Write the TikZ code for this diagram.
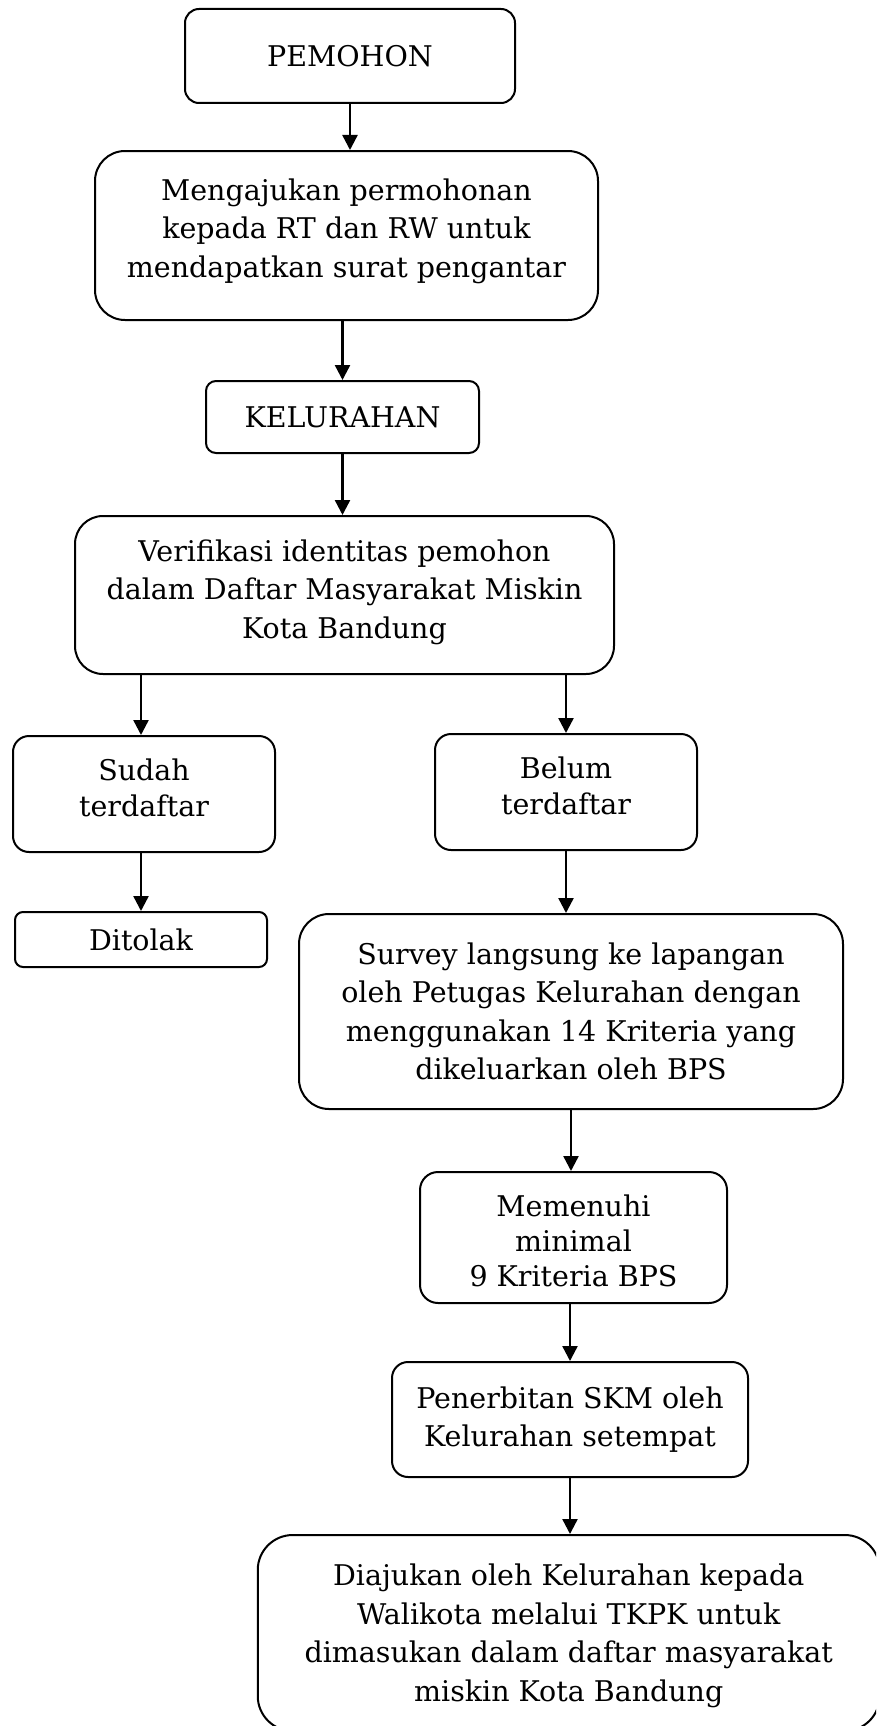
\documentclass[tikz,border=0pt]{standalone}
\usepackage{fontspec}
\setmainfont{DejaVu Serif}
\usetikzlibrary{arrows.meta}
\begin{document}
\begin{tikzpicture}[x=1pt,y=-1pt,
  txt/.style={inner sep=0pt, align=center, font=\fontsize{28.5}{38.5}\selectfont},
  box/.style={draw, line width=2pt, rectangle, inner sep=0pt, txt},
  arr/.style={line width=2.4pt, -{Triangle[width=15pt,length=15pt]}}]
\useasboundingbox (0,0) rectangle (876,1726);
\clip (0,0) rectangle (876,1726);
\fill[white] (0,0) rectangle (876,1726);
\node[box, rounded corners=14pt, minimum width=330pt, minimum height=94pt] (pem) at (350,56) {PEMOHON};
\node[box, rounded corners=30pt, minimum width=503pt, minimum height=169pt,
  label={[txt, yshift=4.5pt]center:{Mengajukan permohonan\\kepada RT dan RW untuk\\mendapatkan surat pengantar}}] (aju) at (346.5,235.5) {};
\node[box, rounded corners=10pt, minimum width=273pt, minimum height=72pt] (kel) at (342.5,417) {KELURAHAN};
\node[box, rounded corners=28pt, minimum width=539pt, minimum height=158pt,
  label={[txt, yshift=3pt]center:{Verifikasi identitas pemohon\\dalam Daftar Masyarakat Miskin\\Kota Bandung}}] (ver) at (344.5,595) {};
\node[box, rounded corners=16pt, minimum width=262pt, minimum height=116pt,
  label={[txt, yshift=6pt, font=\fontsize{28.5}{36}\selectfont]center:{Sudah\\terdaftar}}] (sud) at (144,794) {};
\node[box, rounded corners=16pt, minimum width=262pt, minimum height=116pt,
  label={[txt, yshift=6.5pt, font=\fontsize{28.5}{36}\selectfont]center:{Belum\\terdaftar}}] (bel) at (566,792) {};
\node[box, rounded corners=8pt, minimum width=252pt, minimum height=55pt] (dit) at (141,939.5) {Ditolak};
\node[box, rounded corners=30pt, minimum width=544pt, minimum height=195pt] (sur) at (571,1011.5)
  {Survey langsung ke lapangan\\oleh Petugas Kelurahan dengan\\menggunakan 14 Kriteria yang\\dikeluarkan oleh BPS};
\node[box, rounded corners=18pt, minimum width=307pt, minimum height=131pt,
  label={[txt, yshift=-3pt, font=\fontsize{28.5}{35}\selectfont]center:{Memenuhi\\minimal\\9 Kriteria BPS}}] (mem) at (573.5,1237.5) {};
\node[box, rounded corners=16pt, minimum width=356pt, minimum height=115pt] (pen) at (570,1419.5)
  {Penerbitan SKM oleh\\Kelurahan setempat};
\node[box, rounded corners=35pt, minimum width=622pt, minimum height=196pt,
  label={[txt, yshift=-3pt]center:{Diajukan oleh Kelurahan kepada\\Walikota melalui TKPK untuk\\dimasukan dalam daftar masyarakat\\miskin Kota Bandung}}] (dia) at (568.75,1633) {};
\draw[arr] (pem.south) -- (pem.south |- aju.north);
\draw[arr] (kel.north |- aju.south) -- (kel.north);
\draw[arr] (kel.south) -- (kel.south |- ver.north);
\draw[arr] (dit.north |- ver.south) -- (dit.north |- sud.north);
\draw[arr] (bel.north |- ver.south) -- (bel.north);
\draw[arr] (dit.north |- sud.south) -- (dit.north);
\draw[arr] (bel.south) -- (bel.south |- sur.north);
\draw[arr] (sur.south) -- (sur.south |- mem.north);
\draw[arr] (pen.north |- mem.south) -- (pen.north);
\draw[arr] (pen.south) -- (pen.south |- dia.north);
\end{tikzpicture}
\end{document}
